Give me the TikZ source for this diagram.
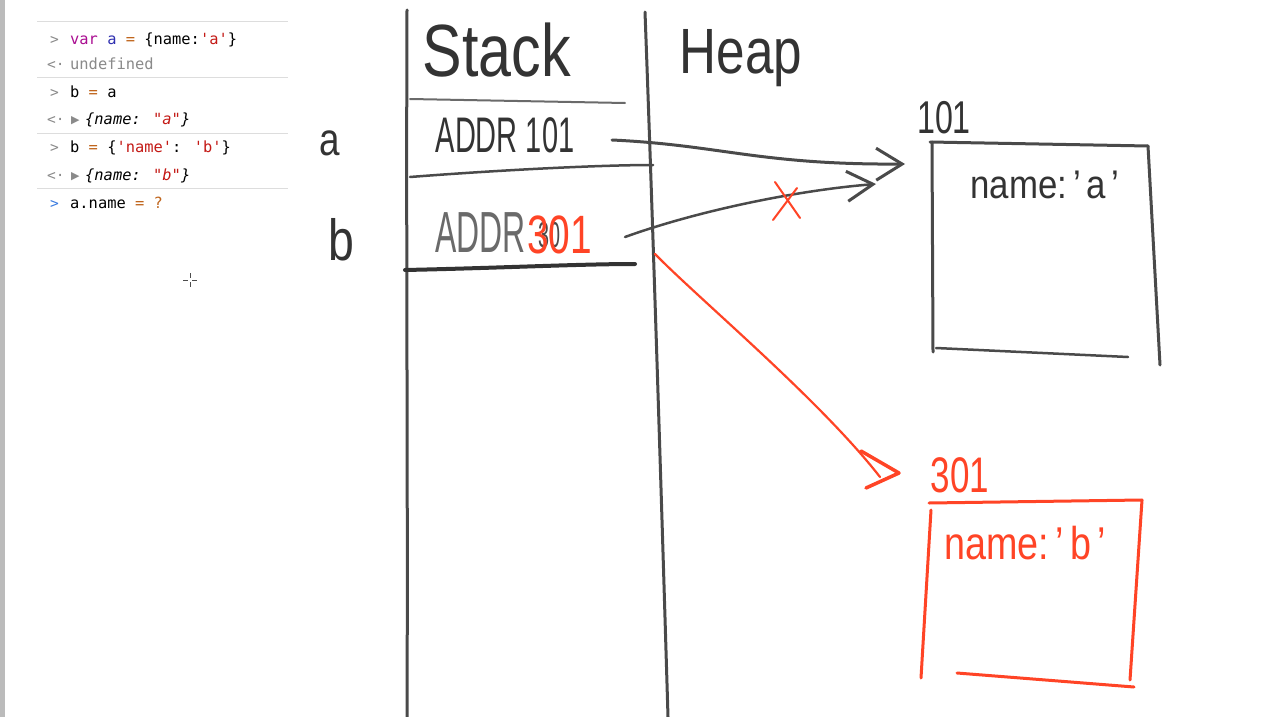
\documentclass[tikz,border=0pt]{standalone}
\usepackage{fontspec}
\setmainfont{Liberation Sans}
\newfontfamily\monof{DejaVu Sans Mono}
\newfontfamily\symf{DejaVu Sans}
\usetikzlibrary{arrows.meta}
\definecolor{ink}{HTML}{333333}
\definecolor{pen}{HTML}{4A4A4A}
\definecolor{lightpen}{HTML}{6A6A6A}
\definecolor{redpen}{HTML}{FF4426}
\definecolor{kwc}{HTML}{AA0D91}
\definecolor{varc}{HTML}{2F2FB0}
\definecolor{opc}{HTML}{C0651C}
\definecolor{strc}{HTML}{C41A16}
\definecolor{promptc}{HTML}{8A8A8A}
\definecolor{bluep}{HTML}{3A7BE0}
\definecolor{sepc}{HTML}{DDDDDD}
\definecolor{barc}{HTML}{BBBBBB}
\begin{document}
\begin{tikzpicture}[x=1pt,y=-1pt,
  hand/.style={line cap=round,line join=round},
  con/.style={font=\monof\fontsize{15.4}{17}\selectfont, anchor=base west, inner sep=0pt},
  prm/.style={font=\monof\fontsize{14.5}{16}\selectfont, anchor=base west, inner sep=0pt, text=promptc},
  hw/.style={inner sep=0pt},
  sep/.style={draw=sepc, line width=1pt}]
\useasboundingbox (0,0) rectangle (1261,717);
\fill[white] (0,0) rectangle (1261,717);
\fill[barc] (0,0) rectangle (5,717);

% console separators
\draw[sep] (37,22) -- (288,22);
\draw[sep] (37,78) -- (288,78);
\draw[sep] (37,133) -- (288,133);
\draw[sep] (37,188) -- (288,188);

% console rows
\node[prm] (p1) at (50,45) {>};
\node[con] (c1) at (70,45) {\textcolor{kwc}{var} \textcolor{varc}{a} \textcolor{opc}{=} \{name:\textcolor{strc}{'a'}\}};
\node[prm] (p2) at (47,70) {<·};
\node[con, text=promptc] (c2) at (70,70) {undefined};
\node[prm] (p3) at (50,97) {>};
\node[con] (c3) at (70,97) {b \textcolor{opc}{=} a};
\node[prm] (p4) at (47,124) {<·};
\node[con, text=promptc, font=\symf\fontsize{11}{12}\selectfont] (t4) at (71,123) {▶};
\node[con] (c4) at (85,124) {\itshape\{name: \textcolor{strc}{"a"}\}};
\node[prm] (p5) at (50,152) {>};
\node[con] (c5) at (70,152) {b \textcolor{opc}{=} \{\textcolor{strc}{'name'}: \textcolor{strc}{'b'}\}};
\node[prm] (p6) at (47,180) {<·};
\node[con, text=promptc, font=\symf\fontsize{11}{12}\selectfont] (t6) at (71,179) {▶};
\node[con] (c6) at (85,180) {\itshape\{name: \textcolor{strc}{"b"}\}};
\node[prm, text=bluep] (p7) at (50,208) {>};
\node[con] (c7) at (70,208) {a.name \textcolor{opc}{=} \textcolor{opc}{?}};

% cursor
\draw[black!70, line width=0.8pt] (183,280) -- (188,280) (192,280) -- (197,280) (190,273) -- (190,278) (190,282) -- (190,287);

% stack / heap columns
\draw[hand, pen, line width=3pt] (407,10) .. controls (406,250) and (408,500) .. (407,717);
\draw[hand, pen, line width=3pt] (645,12) .. controls (652,200) and (660,450) .. (668,717);

\node[hw, text=ink] (stack) at (497,50) {\fontsize{74}{80}\selectfont\scalebox{0.8}[1]{Stack}};
\node[hw, text=ink] (heap) at (741,58) {\fontsize{64}{70}\selectfont\scalebox{0.8}[1]{Heap}};

% stack rows
\draw[hand, lightpen, line width=2pt] (410,99) -- (625,103);
\draw[hand, pen, line width=2.5pt] (410,177) .. controls (500,170) and (600,165) .. (653,165);
\draw[hand, ink, line width=4pt] (405,270) .. controls (500,268) and (580,264) .. (635,264);

\node[hw, text=ink] (rowa) at (505,135) {\fontsize{50}{55}\selectfont\scalebox{0.58}[1]{ADDR 101}};
\node[hw, text=ink] (lbla) at (330,143) {\fontsize{46}{50}\selectfont\scalebox{0.8}[1]{a}};
\node[hw, text=ink] (lblb) at (341,240) {\fontsize{58}{60}\selectfont\scalebox{0.8}[1]{b}};

\node[hw, text=lightpen, anchor=base west] (rowb) at (435,252) {\fontsize{58}{60}\selectfont\scalebox{0.55}[1]{ADDR}};
\node[hw, text=pen, anchor=base west] (old) at (538,247) {\fontsize{36}{40}\selectfont\scalebox{0.55}[1]{30}};
\node[hw, text=redpen, anchor=base west] (new) at (527,253) {\fontsize{54}{58}\selectfont\scalebox{0.72}[1]{301}};

% coordinates for connectors
\coordinate (sa) at (612,140);
\coordinate (ta) at (905,164);
\coordinate (sb) at (625,237);
\coordinate (tb) at (876,184);
\coordinate (sr) at (655,254);
\coordinate (tr) at (880,477);

\draw[hand, pen, line width=3pt, -{Straight Barb[length=26pt,width=32pt,line width=3pt]}] (sa) .. controls (720,145) and (760,165) .. (ta);
\draw[hand, pen, line width=2.5pt, -{Straight Barb[length=26pt,width=30pt,line width=3pt]}] (sb) .. controls (700,210) and (800,190) .. (tb);

% red X
\draw[hand, redpen, line width=2pt] (775,182) -- (800,218) (773,220) -- (797,188);

% red arrow
\draw[hand, redpen, line width=2.2pt] (sr) .. controls (700,300) and (820,400) .. (tr);
\draw[hand, redpen, line width=3.5pt] (861,451) -- (899,473) -- (866,488);

% box a
\node[hw, text=ink] (addra) at (944,118) {\fontsize{46}{50}\selectfont\scalebox{0.7}[1]{101}};
\draw[hand, pen, line width=3pt] (930,142) -- (1148,146);
\draw[hand, pen, line width=3pt] (932,142) -- (933,352);
\draw[hand, pen, line width=3pt] (1148,146) -- (1160,365);
\draw[hand, pen, line width=2.5pt] (936,348) -- (1128,357);
\node[hw, text=ink] (vala) at (1045,185) {\fontsize{40}{44}\selectfont\scalebox{0.87}[1]{name:\,'\,a\,'}};

% box b
\node[hw, text=redpen] (addrb) at (960,475) {\fontsize{50}{54}\selectfont\scalebox{0.7}[1]{301}};
\draw[hand, redpen, line width=3pt] (929,503) -- (1142,500);
\draw[hand, redpen, line width=3pt] (931,510) -- (921,678);
\draw[hand, redpen, line width=3pt] (1142,500) -- (1130,680);
\draw[hand, redpen, line width=3pt] (957,673) -- (1134,687);
\node[hw, text=redpen] (valb) at (1025,543) {\fontsize{46}{50}\selectfont\scalebox{0.82}[1]{name:\,'\,b\,'}};
\end{tikzpicture}
\end{document}
